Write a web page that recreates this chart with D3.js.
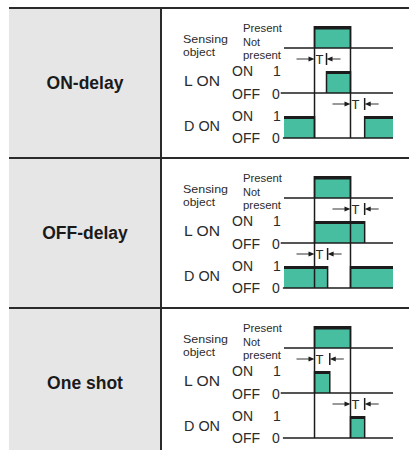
<!DOCTYPE html>
<html>
<head>
<meta charset="utf-8">
<script src="https://cdn.jsdelivr.net/npm/d3@7"></script>
<style>
  body { margin: 0; background: #fff; }
  svg { display: block; font-family: "Liberation Sans", Arial, sans-serif; }
</style>
</head>
<body>
<div id="chart"></div>
<script>
// operation modes, one row each
const modes = ["ON-delay", "OFF-delay", "One shot"];
// time the sensing object is present (same for every mode), 0..100 time units
const sensingOn = [28, 61];
// output intervals for light-ON and dark-ON, per mode
const lOnPulses = [[[39, 61]], [[28, 74]], [[28, 42]]];
const dOnPulses = [[[0, 28], [74, 100]], [[0, 40], [61, 100]], [[61, 74]]];
// timer T intervals shown above the L ON and D ON traces
const lTimer = [[28, 39], [61, 74], [28, 42]];
const dTimer = [[61, 74], [28, 40], [61, 74]];

const width = 409, height = 450;
const teal = "#47bea0", ink = "#1c1c1c";

const svg = d3.select("#chart").append("svg")
    .attr("width", width)
    .attr("height", height);

const rowY = d3.scaleBand().domain(modes).range([8, 458]);
const x = d3.scaleLinear().domain([0, 100]).range([284, 393]);

// vertical offsets inside a row, from the top of the sensing pulse
const lvl = { sHi: 0, sLo: 22, tL: 33, lHi: 45, lLo: 67, tD: 78, dHi: 90, dLo: 112 };

// grey label column
svg.append("rect")
    .attr("x", 9).attr("y", 8)
    .attr("width", 151).attr("height", height - 8)
    .attr("fill", "#e6e6e6");

svg.append("line")
    .attr("x1", 161).attr("x2", 161)
    .attr("y1", 7).attr("y2", height)
    .attr("stroke", "#2a2a2a").attr("stroke-width", 2);

function label(g, s, xx, yy, size, len) {
    const t = g.append("text")
        .attr("x", xx).attr("y", yy)
        .attr("font-size", size)
        .attr("fill", "#2b2b2b")
        .text(s);
    if (len) t.attr("textLength", len).attr("lengthAdjust", "spacingAndGlyphs");
    return t;
}

function pulse(g, y0, a, b, hi, lo, thick) {
    g.append("rect")
        .attr("x", x(a)).attr("y", y0 + hi)
        .attr("width", x(b) - x(a)).attr("height", lo - hi)
        .attr("fill", teal);
    [a, b].filter(v => v > 0 && v < 100).forEach(v => {
        g.append("line")
            .attr("x1", x(v)).attr("x2", x(v))
            .attr("y1", y0 + hi).attr("y2", y0 + lo)
            .attr("stroke", ink).attr("stroke-width", 1.5);
    });
    g.append("line")
        .attr("x1", x(a)).attr("x2", x(b))
        .attr("y1", y0 + hi + thick / 2).attr("y2", y0 + hi + thick / 2)
        .attr("stroke", ink).attr("stroke-width", thick);
}

function timer(g, yy, a, b) {
    const xa = x(a), xb = x(b);
    // left arrow pointing at the start edge
    g.append("line").attr("x1", xa - 18).attr("x2", xa - 4)
        .attr("y1", yy).attr("y2", yy)
        .attr("stroke", "#555").attr("stroke-width", 1.2);
    g.append("path")
        .attr("d", `M${xa},${yy}l-6,-2.5v5z`)
        .attr("fill", ink);
    // right arrow pointing back at the end tick
    g.append("line").attr("x1", xb + 4).attr("x2", xb + 14)
        .attr("y1", yy).attr("y2", yy)
        .attr("stroke", "#555").attr("stroke-width", 1.2);
    g.append("path")
        .attr("d", `M${xb},${yy}l6,-2.5v5z`)
        .attr("fill", ink);
    g.append("line").attr("x1", xb).attr("x2", xb)
        .attr("y1", yy - 6).attr("y2", yy + 6)
        .attr("stroke", ink).attr("stroke-width", 1.5);
    g.append("text")
        .attr("x", xa + 1).attr("y", yy + 5)
        .attr("font-size", 13)
        .attr("fill", "#2b2b2b")
        .text("T");
}

const rows = svg.selectAll(".row")
    .data(modes)
  .enter().append("g")
    .attr("class", "row");

rows.each(function(m, i) {
    const g = d3.select(this);
    const top = rowY(m);
    const y0 = top + 18;

    g.append("line")
        .attr("x1", 9).attr("x2", width)
        .attr("y1", top).attr("y2", top)
        .attr("stroke", "#2a2a2a").attr("stroke-width", 2);

    g.append("text")
        .attr("x", 85).attr("y", y0 + 63)
        .attr("text-anchor", "middle")
        .attr("font-size", 17.5)
        .attr("font-weight", "bold")
        .attr("fill", "#1a1a1a")
        .text(m);

    // signal names
    label(g, "Sensing", 183, y0 + 17, 11, 45);
    label(g, "object", 183, y0 + 29.5, 11, 32);
    label(g, "Present", 243, y0 + 6, 11, 39);
    label(g, "Not", 243, y0 + 19.5, 11, 17);
    label(g, "present", 243, y0 + 32.5, 11, 38);
    label(g, "L ON", 184, y0 + 60, 14.5, 36);
    label(g, "ON", 232, y0 + 50, 14, 21);
    label(g, "1", 273, y0 + 50, 14);
    label(g, "OFF", 232, y0 + 73, 14, 28);
    label(g, "0", 272, y0 + 73, 14);
    label(g, "D ON", 184, y0 + 105, 14.5, 36);
    label(g, "ON", 232, y0 + 95, 14, 21);
    label(g, "1", 273, y0 + 95, 14);
    label(g, "OFF", 232, y0 + 117, 14, 28);
    label(g, "0", 272, y0 + 117, 14);

    // pulses
    pulse(g, y0, sensingOn[0], sensingOn[1], lvl.sHi, lvl.sLo, 3.5);
    lOnPulses[i].forEach(p => pulse(g, y0, p[0], p[1], lvl.lHi, lvl.lLo, 3));
    dOnPulses[i].forEach(p => pulse(g, y0, p[0], p[1], lvl.dHi, lvl.dLo, 3));

    // baselines
    [[0, lvl.sLo], [-3, lvl.lLo], [-1, lvl.dLo]].forEach(([start, off]) => {
        g.append("line")
            .attr("x1", x(start)).attr("x2", x(100))
            .attr("y1", y0 + off).attr("y2", y0 + off)
            .attr("stroke", ink).attr("stroke-width", 1.5);
    });

    // edges of the sensing object, down through all traces
    sensingOn.forEach(v => {
        g.append("line")
            .attr("x1", x(v)).attr("x2", x(v))
            .attr("y1", y0).attr("y2", y0 + lvl.dLo)
            .attr("stroke", ink).attr("stroke-width", 1.5);
    });

    timer(g, y0 + lvl.tL, lTimer[i][0], lTimer[i][1]);
    timer(g, y0 + lvl.tD, dTimer[i][0], dTimer[i][1]);
});
</script>
</body>
</html>
